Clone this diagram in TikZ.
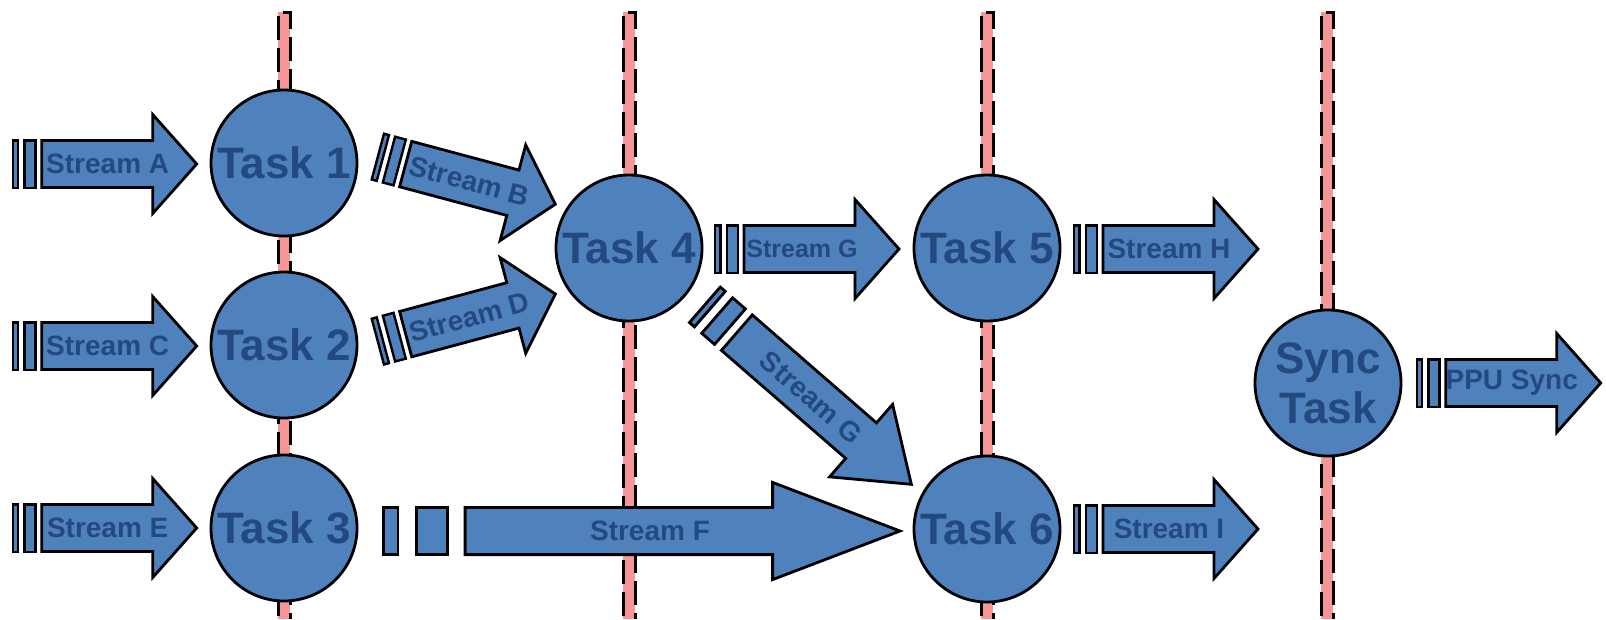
\documentclass[tikz,border=0pt]{standalone}
\usepackage{fontspec}
\setmainfont{Liberation Sans}

\definecolor{taskblue}{RGB}{79,129,189}
\definecolor{labelblue}{RGB}{35,73,128}
\definecolor{syncpink}{RGB}{247,150,150}

% block arrow with two bars in front: [label options], name, start, angle, label
\newcommand{\streamarrow}[5][]{%
  \begin{scope}[shift={#3}, rotate=#4]
    \draw[block, line width=2.4pt] (1.2,-23.7) -- (6.4,-23.7) -- (6.4,23.7) -- (1.2,23.7) -- cycle;
    \draw[block, line width=2.4pt] (12.7,-23.7) -- (23.8,-23.7) -- (23.8,23.7) -- (12.7,23.7) -- cycle;
    \draw[block] (30,-23.5) -- (141,-23.5) -- (141,-49.5) -- (185,0)
      -- (141,49.5) -- (141,23.5) -- (30,23.5) -- cycle;
    \node[streamlabel, rotate=#4, #1] (#2) at (96,0) {#5};
  \end{scope}}

\begin{document}
\begin{tikzpicture}[x=1pt, y=-1pt,
    block/.style={draw, fill=taskblue, line width=2.8pt},
    task/.style={circle, draw, fill=taskblue, line width=2.8pt,
      minimum size=146pt, inner sep=0pt, text=labelblue, align=center,
      font=\fontsize{44}{50}\selectfont\bfseries},
    streamlabel/.style={text=labelblue, inner sep=0pt,
      font=\fontsize{28}{30}\selectfont\bfseries},
    barrier/.style={fill=syncpink},
    barrieredge/.style={draw=black, line width=3.4pt,
      dash pattern=on 24pt off 8pt, dash phase=29pt}]
  \useasboundingbox (0,0) rectangle (1606,619);

  % sync barriers
  \fill[barrier] (278,12) rectangle (290,619);
  \draw[barrieredge] (278.4,619) -- (278.4,12.5) -- (290.2,12.5) -- (290.2,619);
  \fill[barrier] (623,12) rectangle (635,619);
  \draw[barrieredge] (623.4,619) -- (623.4,12.5) -- (635.2,12.5) -- (635.2,619);
  \fill[barrier] (981,12) rectangle (993,619);
  \draw[barrieredge] (981.4,619) -- (981.4,12.5) -- (993.2,12.5) -- (993.2,619);
  \fill[barrier] (1321,12) rectangle (1333,619);
  \draw[barrieredge] (1321.4,619) -- (1321.4,12.5) -- (1333.2,12.5) -- (1333.2,619);

  % tasks
  \node[task] (t1) at (284,163) {Task 1};
  \node[task] (t2) at (284,345) {Task 2};
  \node[task] (t3) at (284,528) {Task 3};
  \node[task] (t4) at (629,248) {Task 4};
  \node[task] (t5) at (987,248) {Task 5};
  \node[task] (t6) at (987,529) {Task 6};
  \node[task] (sync) at (1328,383) {Sync\\Task};

  % streams
  \streamarrow{sA}{(11.7,164)}{0}{Stream A}
  \streamarrow{sC}{(11.7,346)}{0}{Stream C}
  \streamarrow{sE}{(11.7,528)}{0}{Stream E}
  \streamarrow{sB}{(376.7,156.3)}{-15}{Stream B}
  \streamarrow{sD}{(376.7,341.9)}{15}{Stream D}
  \streamarrow[font=\fontsize{25}{27}\selectfont\bfseries, xshift=-8pt]{sG}{(714,249)}{0}{Stream G}
  \streamarrow{sH}{(1073,249)}{0}{Stream H}
  \streamarrow{sI}{(1073,529)}{0}{Stream I}
  \streamarrow{ppu}{(1415.7,383)}{0}{PPU Sync}

  % Stream G down to Task 6
  \begin{scope}[shift={(703.8,303.9)}, rotate=-41]
    \draw[block] (1.4,-23.5) -- (8,-23.5) -- (8,23.5) -- (1.4,23.5) -- cycle;
    \draw[block] (17.7,-23.5) -- (34.7,-23.5) -- (34.7,23.5) -- (17.7,23.5) -- cycle;
    \draw[block] (43.8,-23.5) -- (208.4,-23.5) -- (208.4,-48) -- (275,0)
      -- (208.4,48) -- (208.4,23.5) -- (43.8,23.5) -- cycle;
    \node[streamlabel, rotate=-41] (sG2) at (142.4,0) {Stream G};
  \end{scope}

  % Stream F from Task 3 to Task 6
  \begin{scope}[shift={(382,531)}]
    \draw[block] (1.4,-23.6) -- (15.9,-23.6) -- (15.9,23.6) -- (1.4,23.6) -- cycle;
    \draw[block] (34.2,-23.6) -- (65.1,-23.6) -- (65.1,23.6) -- (34.2,23.6) -- cycle;
    \draw[block] (83.1,-23.6) -- (390.6,-23.6) -- (390.6,-48.6) -- (518,0)
      -- (390.6,48.6) -- (390.6,23.6) -- (83.1,23.6) -- cycle;
    \node[streamlabel] (sF) at (268,0) {Stream F};
  \end{scope}
\end{tikzpicture}
\end{document}
